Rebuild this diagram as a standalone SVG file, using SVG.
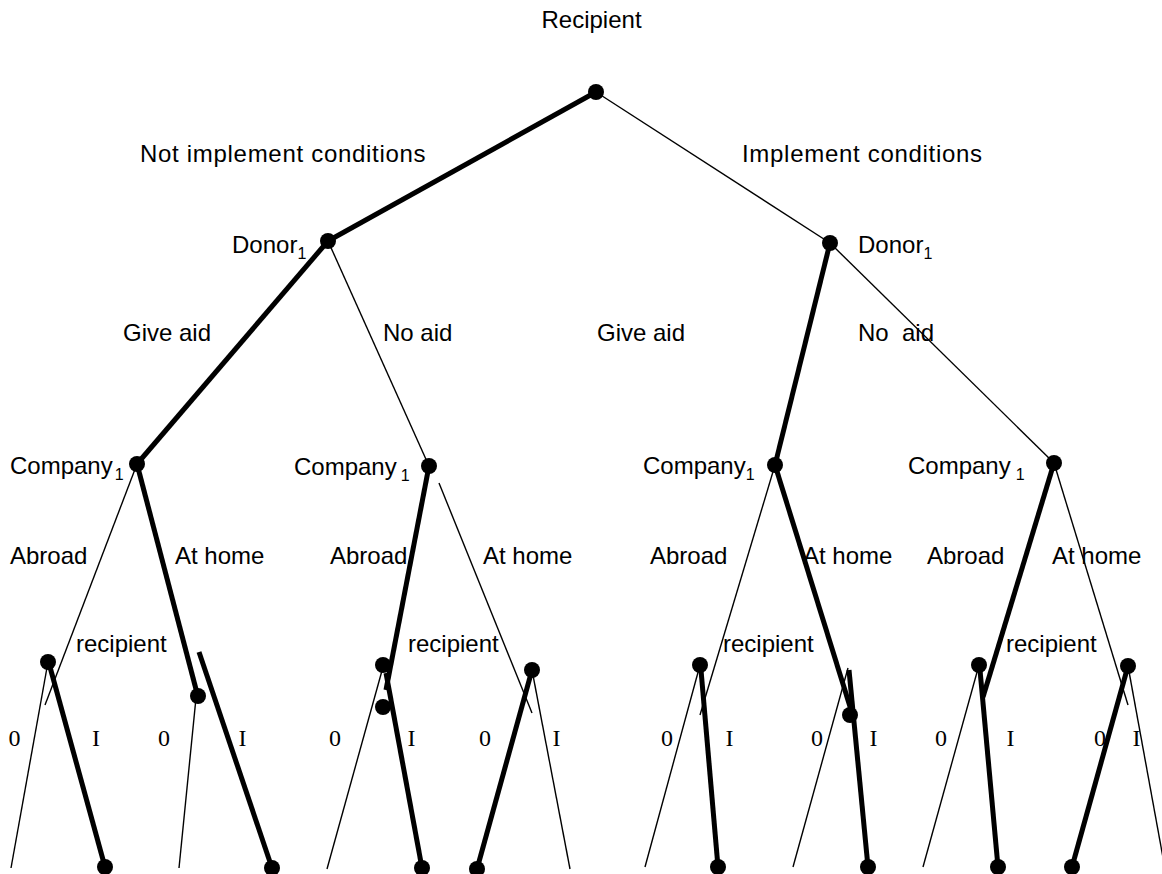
<svg xmlns="http://www.w3.org/2000/svg" width="1162" height="874" viewBox="0 0 1162 874">
<style>
.t{font-family:"Liberation Sans",Arial,sans-serif;font-size:24px;fill:#000}
.w{letter-spacing:0.7px}
.s{font-size:16px}
.n{font-family:"Liberation Serif","Times New Roman",serif;font-size:24px;fill:#000}
.thin{stroke:#000;stroke-width:1.4;fill:none}
.thick{stroke:#000;stroke-width:5;fill:none}
.dot{fill:#000}
</style>
<rect width="1162" height="874" fill="#fff"/>
<g id="connectors">
<line class="thick" x1="596" y1="92" x2="328" y2="241"/>
<line class="thin" x1="596" y1="92" x2="830" y2="243"/>
<line class="thick" x1="328" y1="241" x2="137" y2="464"/>
<line class="thin" x1="328" y1="241" x2="429" y2="466"/>
<line class="thick" x1="830" y1="243" x2="775" y2="465"/>
<line class="thin" x1="830" y1="243" x2="1054" y2="463"/>
<line class="thin" x1="137" y1="464" x2="45" y2="705"/>
<line class="thick" x1="137" y1="464" x2="197" y2="693"/>
<line class="thick" x1="429" y1="466" x2="386" y2="690"/>
<line class="thin" x1="439" y1="483" x2="532" y2="713"/>
<line class="thin" x1="775" y1="465" x2="700" y2="715"/>
<line class="thick" x1="775" y1="465" x2="852" y2="713"/>
<line class="thick" x1="1054" y1="463" x2="983" y2="697"/>
<line class="thin" x1="1054" y1="463" x2="1128" y2="705"/>
<line class="thin" x1="48" y1="662" x2="11" y2="868"/>
<line class="thick" x1="50" y1="667" x2="105" y2="867"/>
<line class="thin" x1="196" y1="698" x2="179" y2="868"/>
<line class="thick" x1="199" y1="652" x2="272" y2="868"/>
<line class="thin" x1="383" y1="667" x2="327" y2="869"/>
<line class="thick" x1="386" y1="673" x2="422" y2="868"/>
<line class="thick" x1="532" y1="670" x2="477" y2="869"/>
<line class="thin" x1="532" y1="670" x2="570" y2="869"/>
<line class="thin" x1="700" y1="665" x2="645" y2="867"/>
<line class="thick" x1="701" y1="670" x2="718" y2="867"/>
<line class="thick" x1="849" y1="670" x2="868" y2="867"/>
<line class="thin" x1="848" y1="668" x2="793" y2="867"/>
<line class="thin" x1="979" y1="665" x2="923" y2="867"/>
<line class="thick" x1="980" y1="670" x2="998" y2="867"/>
<line class="thick" x1="1128" y1="666" x2="1072" y2="867"/>
<line class="thin" x1="1128" y1="666" x2="1166" y2="874"/>
</g>
<g id="root">
<circle class="dot" cx="596" cy="92" r="8"/>
<text class="t" x="541.5" y="28">Recipient</text>
</g>
<g id="edge-labels-top">
<text class="t w" x="140" y="162">Not implement conditions</text>
<text class="t w" x="742" y="162">Implement conditions</text>
</g>
<g id="donor-left">
<circle class="dot" cx="328" cy="241" r="8"/>
<text class="t" x="232" y="253">Donor<tspan class="s" dy="6">1</tspan></text>
</g>
<g id="donor-right">
<circle class="dot" cx="830" cy="243" r="8"/>
<text class="t" x="858" y="253">Donor<tspan class="s" dy="6">1</tspan></text>
</g>
<g id="aid-labels">
<text class="t" x="123" y="341">Give aid</text>
<text class="t" x="383" y="341">No aid</text>
<text class="t" x="597" y="341">Give aid</text>
<text class="t" x="858" y="341" xml:space="preserve">No  aid</text>
</g>
<g id="company-1">
<circle class="dot" cx="137" cy="464" r="8"/>
<text class="t" x="10" y="474">Company<tspan class="s" dx="2" dy="6">1</tspan></text>
</g>
<g id="company-2">
<circle class="dot" cx="429" cy="466" r="8"/>
<text class="t" x="294" y="475">Company<tspan class="s" dx="4" dy="6">1</tspan></text>
</g>
<g id="company-3">
<circle class="dot" cx="775" cy="465" r="8"/>
<text class="t" x="643" y="474">Company<tspan class="s" dy="6">1</tspan></text>
</g>
<g id="company-4">
<circle class="dot" cx="1054" cy="463" r="8"/>
<text class="t" x="908" y="474">Company<tspan class="s" dx="5" dy="6">1</tspan></text>
</g>
<g id="location-labels">
<text class="t" x="10" y="564">Abroad</text>
<text class="t" x="175" y="564">At home</text>
<text class="t" x="330" y="564">Abroad</text>
<text class="t" x="483" y="564">At home</text>
<text class="t" x="650" y="564">Abroad</text>
<text class="t" x="803" y="564">At home</text>
<text class="t" x="927" y="564">Abroad</text>
<text class="t" x="1052" y="564">At home</text>
</g>
<g id="recipient-labels">
<text class="t" x="76" y="652">recipient</text>
<text class="t" x="408" y="652">recipient</text>
<text class="t" x="723" y="652">recipient</text>
<text class="t" x="1006" y="652">recipient</text>
</g>
<g id="recipient-1"><circle class="dot" cx="48" cy="662" r="8"/></g>
<g id="recipient-2"><circle class="dot" cx="198" cy="696" r="8"/></g>
<g id="recipient-3"><circle class="dot" cx="383" cy="665" r="8"/><circle class="dot" cx="383" cy="707" r="8"/></g>
<g id="recipient-4"><circle class="dot" cx="532" cy="670" r="8"/></g>
<g id="recipient-5"><circle class="dot" cx="700" cy="665" r="8"/></g>
<g id="recipient-6"><circle class="dot" cx="850" cy="715" r="8"/></g>
<g id="recipient-7"><circle class="dot" cx="979" cy="665" r="8"/></g>
<g id="recipient-8"><circle class="dot" cx="1128" cy="666" r="8"/></g>
<g id="choice-labels">
<text class="n" x="8.5" y="746">0</text>
<text class="n" x="92" y="746">I</text>
<text class="n" x="158" y="746">0</text>
<text class="n" x="238.5" y="746">I</text>
<text class="n" x="329" y="746">0</text>
<text class="n" x="407.5" y="746">I</text>
<text class="n" x="479" y="746">0</text>
<text class="n" x="552.5" y="746">I</text>
<text class="n" x="661" y="746">0</text>
<text class="n" x="725.5" y="746">I</text>
<text class="n" x="811" y="746">0</text>
<text class="n" x="869.5" y="746">I</text>
<text class="n" x="935" y="746">0</text>
<text class="n" x="1006.5" y="746">I</text>
<text class="n" x="1094" y="746">0</text>
<text class="n" x="1132.5" y="746">I</text>
</g>
<g id="leaves">
<circle class="dot" cx="105" cy="867" r="8"/>
<circle class="dot" cx="272" cy="868" r="8"/>
<circle class="dot" cx="422" cy="868" r="8"/>
<circle class="dot" cx="477" cy="869" r="8"/>
<circle class="dot" cx="718" cy="867" r="8"/>
<circle class="dot" cx="868" cy="867" r="8"/>
<circle class="dot" cx="998" cy="867" r="8"/>
<circle class="dot" cx="1072" cy="867" r="8"/>
</g>
</svg>
